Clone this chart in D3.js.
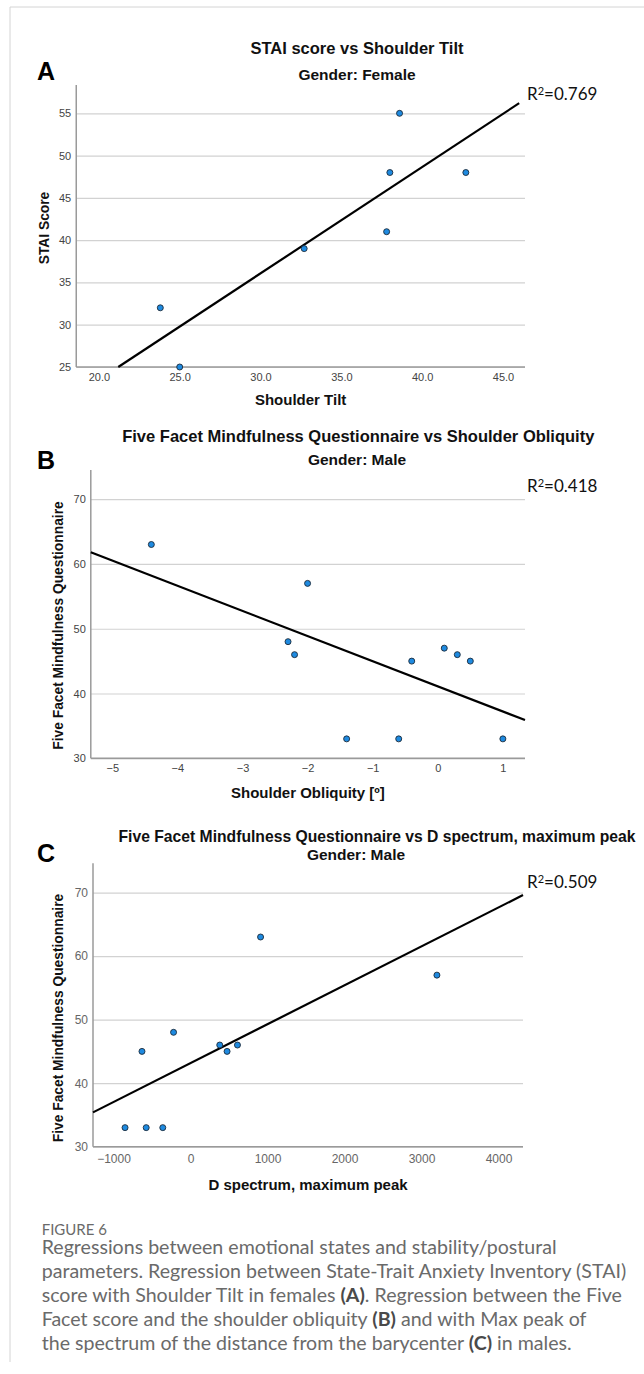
<!DOCTYPE html>
<html>
<head>
<meta charset="utf-8">
<script src="https://cdn.jsdelivr.net/npm/d3@7"></script>
<style>
  body { margin: 0; background: #fff; }
  svg { display: block; }
</style>
</head>
<body>
<svg width="644" height="1374"></svg>
<script>
// A: STAI score vs shoulder tilt, females
const tiltA = [38.6, 38.0, 42.7, 37.8, 32.7, 23.8, 25.0];
const staiA = [55, 48, 48, 41, 39, 32, 25];
const fitA = [[21.2, 25], [46.0, 56.2]];
const xTicksA = [20, 25, 30, 35, 40, 45];
const yTicksA = [25, 30, 35, 40, 45, 50, 55];

// B: FFMQ vs shoulder obliquity, males
const obliqB = [-4.4, -2.0, -2.3, -2.2, -1.4, -0.6, -0.4, 0.1, 0.3, 0.5, 1.0];
const ffmqB = [63, 57, 48, 46, 33, 33, 45, 47, 46, 45, 33];
const fitB = [[-5.33, 61.8], [1.34, 35.9]];
const xTicksB = [-5, -4, -3, -2, -1, 0, 1];
const yTicksB = [30, 40, 50, 60, 70];

// C: FFMQ vs D spectrum max peak, males
const peakC = [-850, -575, -360, -630, -220, 380, 475, 610, 910, 3200];
const ffmqC = [33, 33, 33, 45, 48, 46, 45, 46, 63, 57];
const fitC = [[-1266, 35.4], [4318, 69.6]];
const xTicksC = [-1000, 0, 1000, 2000, 3000, 4000];
const yTicksC = [30, 40, 50, 60, 70];

const r2Values = ["0.769", "0.418", "0.509"];

const captionLines = [
  [["Regressions between emotional states and stability/postural", false]],
  [["parameters. Regression between State-Trait Anxiety Inventory (STAI)", false]],
  [["score with Shoulder Tilt in females ", false], ["(A)", true], [". Regression between the Five", false]],
  [["Facet score and the shoulder obliquity ", false], ["(B)", true], [" and with Max peak of", false]],
  [["the spectrum of the distance from the barycenter ", false], ["(C)", true], [" in males.", false]]
];

const svg = d3.select("svg");
const sans = "'Liberation Sans', Arial, sans-serif";

// page frame
svg.append("line").attr("x1", 10).attr("x2", 10).attr("y1", 7).attr("y2", 1362)
  .attr("stroke", "#d4d4d4").attr("stroke-width", 1);
svg.append("line").attr("x1", 10).attr("x2", 644).attr("y1", 7).attr("y2", 7)
  .attr("stroke", "#d4d4d4").attr("stroke-width", 1);

const panels = [
  {
    letter: "A", letterY: 71,
    title: "STAI score vs Shoulder Tilt", titleX: 357, titleY: 48.3, titleSize: 16.5,
    sub: "Gender: Female", subX: 357, subY: 75,
    xLabel: "Shoulder Tilt", xLabelY: 400,
    yLabel: "STAI Score", yLabelX: 43.75, yLabelY: 228,
    xs: tiltA, ys: staiA, fit: fitA, xTicks: xTicksA, yTicks: yTicksA,
    xDomain: [18.6, 46.36], yDomain: [25, 58.35],
    left: 76.25, right: 525, top: 85, bottom: 367,
    xFmt: d3.format(".1f"), tickFont: "'Liberation Sans Narrow', sans-serif", tickSize: 11, tickColor: "#444",
    xTickY: 377, r2: r2Values[0], r2Y: 94.3
  },
  {
    letter: "B", letterY: 460,
    title: "Five Facet Mindfulness Questionnaire vs Shoulder Obliquity", titleX: 358.3, titleY: 436.7, titleSize: 16.5,
    sub: "Gender: Male", subX: 357, subY: 460,
    xLabel: "Shoulder Obliquity [º]", xLabelY: 792.7,
    yLabel: "Five Facet Mindfulness Questionnaire", yLabelX: 58.3, yLabelY: 625.5,
    xs: obliqB, ys: ffmqB, fit: fitB, xTicks: xTicksB, yTicks: yTicksB,
    xDomain: [-5.33, 1.34], yDomain: [30, 74.5],
    left: 90.8, right: 525, top: 470, bottom: 758.3,
    xFmt: d3.format("d"), tickFont: "'Liberation Sans Narrow', sans-serif", tickSize: 11, tickColor: "#444",
    xTickY: 767.7, r2: r2Values[1], r2Y: 485.7
  },
  {
    letter: "C", letterY: 853.3,
    title: "Five Facet Mindfulness Questionnaire vs D spectrum, maximum peak", titleX: 377, titleY: 836.7, titleSize: 15.7,
    sub: "Gender: Male", subX: 356, subY: 854.3,
    xLabel: "D spectrum, maximum peak", xLabelY: 1185,
    yLabel: "Five Facet Mindfulness Questionnaire", yLabelX: 58.3, yLabelY: 1018,
    xs: peakC, ys: ffmqC, fit: fitC, xTicks: xTicksC, yTicks: yTicksC,
    xDomain: [-1266, 4318], yDomain: [30, 74.6],
    left: 93, right: 523, top: 863.3, bottom: 1146.7,
    xFmt: d3.format("d"), tickFont: sans, tickSize: 12, tickColor: "#666",
    xTickY: 1159.3, r2: r2Values[2], r2Y: 881.7
  }
];

panels.forEach(p => {
  const x = d3.scaleLinear().domain(p.xDomain).range([p.left, p.right]);
  const y = d3.scaleLinear().domain(p.yDomain).range([p.bottom, p.top]);
  const g = svg.append("g");

  // gridlines
  g.append("g")
    .attr("transform", `translate(${p.left},0)`)
    .call(d3.axisLeft(y).tickValues(p.yTicks).tickSize(-(p.right - p.left)).tickFormat(""))
    .call(s => s.select(".domain").remove())
    .call(s => s.selectAll(".tick line").attr("stroke", "#d2d2d2").attr("stroke-width", 1.2));

  // y axis labels
  g.append("g")
    .attr("transform", `translate(${p.left},0)`)
    .call(d3.axisLeft(y).tickValues(p.yTicks).tickSize(0).tickPadding(5))
    .call(s => s.select(".domain").remove())
    .call(s => s.selectAll("text")
      .attr("font-family", p.tickFont).attr("font-size", p.tickSize).attr("fill", p.tickColor));

  // x axis labels
  g.append("g")
    .attr("transform", `translate(0,${p.bottom})`)
    .call(d3.axisBottom(x).tickValues(p.xTicks).tickSize(0).tickFormat(p.xFmt))
    .call(s => s.select(".domain").remove())
    .call(s => s.selectAll("text")
      .attr("y", p.xTickY - p.bottom).attr("dy", "0.35em")
      .attr("font-family", p.tickFont).attr("font-size", p.tickSize).attr("fill", p.tickColor));

  // axis lines
  g.append("line").attr("x1", p.left).attr("x2", p.left).attr("y1", p.top).attr("y2", p.bottom)
    .attr("stroke", "#9a9a9a").attr("stroke-width", 1.5);
  g.append("line").attr("x1", p.left).attr("x2", p.right).attr("y1", p.bottom).attr("y2", p.bottom)
    .attr("stroke", "#9a9a9a").attr("stroke-width", 1.5);

  // fit line
  g.append("line")
    .attr("x1", x(p.fit[0][0])).attr("y1", y(p.fit[0][1]))
    .attr("x2", x(p.fit[1][0])).attr("y2", y(p.fit[1][1]))
    .attr("stroke", "#000").attr("stroke-width", 2.2);

  // points
  g.selectAll("circle").data(p.xs.map((v, i) => [v, p.ys[i]]))
    .enter().append("circle")
      .attr("cx", d => x(d[0]))
      .attr("cy", d => y(d[1]))
      .attr("r", 3)
      .attr("fill", "#1e8ae0")
      .attr("stroke", "#1b2a3a")
      .attr("stroke-width", 0.9);

  // titles
  g.append("text").attr("x", p.titleX).attr("y", p.titleY).attr("dy", "0.35em")
    .attr("text-anchor", "middle").attr("font-family", sans).attr("font-weight", "bold")
    .attr("font-size", p.titleSize).attr("fill", "#111").text(p.title);
  g.append("text").attr("x", p.subX).attr("y", p.subY).attr("dy", "0.35em")
    .attr("text-anchor", "middle").attr("font-family", sans).attr("font-weight", "bold")
    .attr("font-size", 15.5).attr("fill", "#111").text(p.sub);
  g.append("text").attr("x", 37).attr("y", p.letterY).attr("dy", "0.35em")
    .attr("font-family", sans).attr("font-weight", "bold")
    .attr("font-size", 25).attr("fill", "#000").text(p.letter);

  g.append("text").attr("x", (p.left + p.right) / 2).attr("y", p.xLabelY).attr("dy", "0.35em")
    .attr("text-anchor", "middle").attr("font-family", sans).attr("font-weight", "bold")
    .attr("font-size", 15).attr("fill", "#111").text(p.xLabel);
  g.append("text")
    .attr("transform", `translate(${p.yLabelX},${p.yLabelY}) rotate(-90)`)
    .attr("dy", "0.35em")
    .attr("text-anchor", "middle").attr("font-family", sans).attr("font-weight", "bold")
    .attr("font-size", 13.8).attr("fill", "#111").text(p.yLabel);

  // R² annotation
  const r = g.append("text").attr("x", 527).attr("y", p.r2Y).attr("dy", "0.35em")
    .attr("font-family", "Lato, sans-serif").attr("font-size", 17).attr("fill", "#111");
  r.append("tspan").text("R");
  r.append("tspan").attr("font-size", 11).attr("dy", "-0.45em").text("2");
  r.append("tspan").attr("dy", "0.3em").text("=" + p.r2);
});

// caption
svg.append("text").attr("x", 41.7).attr("y", 1229.3).attr("dy", "0.35em")
  .attr("font-family", "Lato, sans-serif").attr("font-size", 15).attr("fill", "#6a6a6a")
  .text("FIGURE 6");

captionLines.forEach((line, i) => {
  const t = svg.append("text").attr("x", 41.7).attr("y", 1247 + i * 24).attr("dy", "0.35em")
    .attr("font-family", "Lato, sans-serif").attr("font-size", 19.6).attr("fill", "#6a6a6a");
  line.forEach(([s, bold]) => {
    t.append("tspan").attr("font-weight", bold ? "bold" : null)
      .attr("fill", bold ? "#4a4a4a" : null).text(s);
  });
});
</script>
</body>
</html>
